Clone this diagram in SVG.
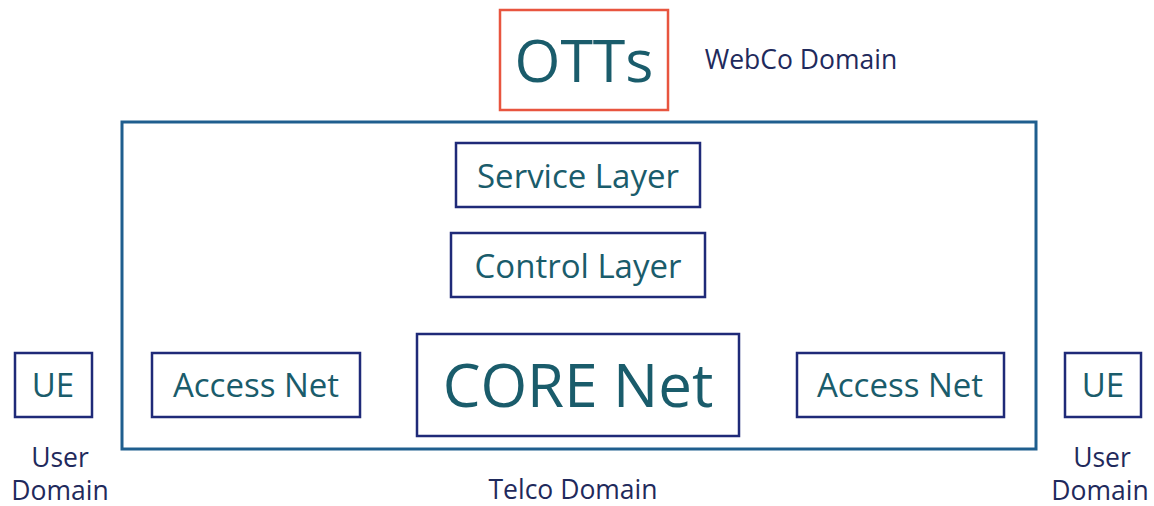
<svg xmlns="http://www.w3.org/2000/svg" width="1154" height="506" viewBox="0 0 1154 506">
<style>
.bx{fill:#fff;stroke:#1f2a78;stroke-width:2.5}
.lbl{font-family:"Open Sans","Noto Sans",sans-serif;fill:#1a5c6b;text-anchor:middle}
.dom{font-family:"Open Sans","Noto Sans",sans-serif;fill:#1f2a5c;text-anchor:middle;font-size:26.5px}
</style>
<rect width="1154" height="506" fill="#fff"/>
<g id="telco">
<rect x="122" y="122" width="914" height="327" fill="none" stroke="#1f5e8e" stroke-width="3"/>
<text class="dom" x="573" y="499">Telco Domain</text>
</g>
<g id="otts">
<rect x="500" y="10" width="168" height="100" fill="#fff" stroke="#e8553f" stroke-width="2.5"/>
<text class="lbl" x="584" y="82" font-size="59">OTTs</text>
</g>
<g id="webco"><text class="dom" x="801" y="69">WebCo Domain</text></g>
<g id="service">
<rect class="bx" x="456" y="143" width="244" height="64"/>
<text class="lbl" x="578" y="188" font-size="33">Service Layer</text>
</g>
<g id="control">
<rect class="bx" x="451" y="233" width="254" height="64"/>
<text class="lbl" x="578" y="278" font-size="33">Control Layer</text>
</g>
<g id="core">
<rect class="bx" x="417" y="334" width="322" height="102"/>
<text class="lbl" x="578" y="407" font-size="60">CORE Net</text>
</g>
<g id="access-left">
<rect class="bx" x="152" y="353" width="208" height="64"/>
<text class="lbl" x="256" y="397" font-size="33">Access Net</text>
</g>
<g id="access-right">
<rect class="bx" x="797" y="353" width="207" height="64"/>
<text class="lbl" x="900" y="397" font-size="33">Access Net</text>
</g>
<g id="ue-left">
<rect class="bx" x="15" y="353" width="77" height="64"/>
<text class="lbl" x="53" y="397" font-size="33">UE</text>
<text class="dom" x="60" y="467">User</text>
<text class="dom" x="60" y="500">Domain</text>
</g>
<g id="ue-right">
<rect class="bx" x="1065" y="353" width="76" height="64"/>
<text class="lbl" x="1103" y="397" font-size="33">UE</text>
<text class="dom" x="1102" y="467">User</text>
<text class="dom" x="1100" y="500">Domain</text>
</g>
<g id="connectors"></g>
</svg>
